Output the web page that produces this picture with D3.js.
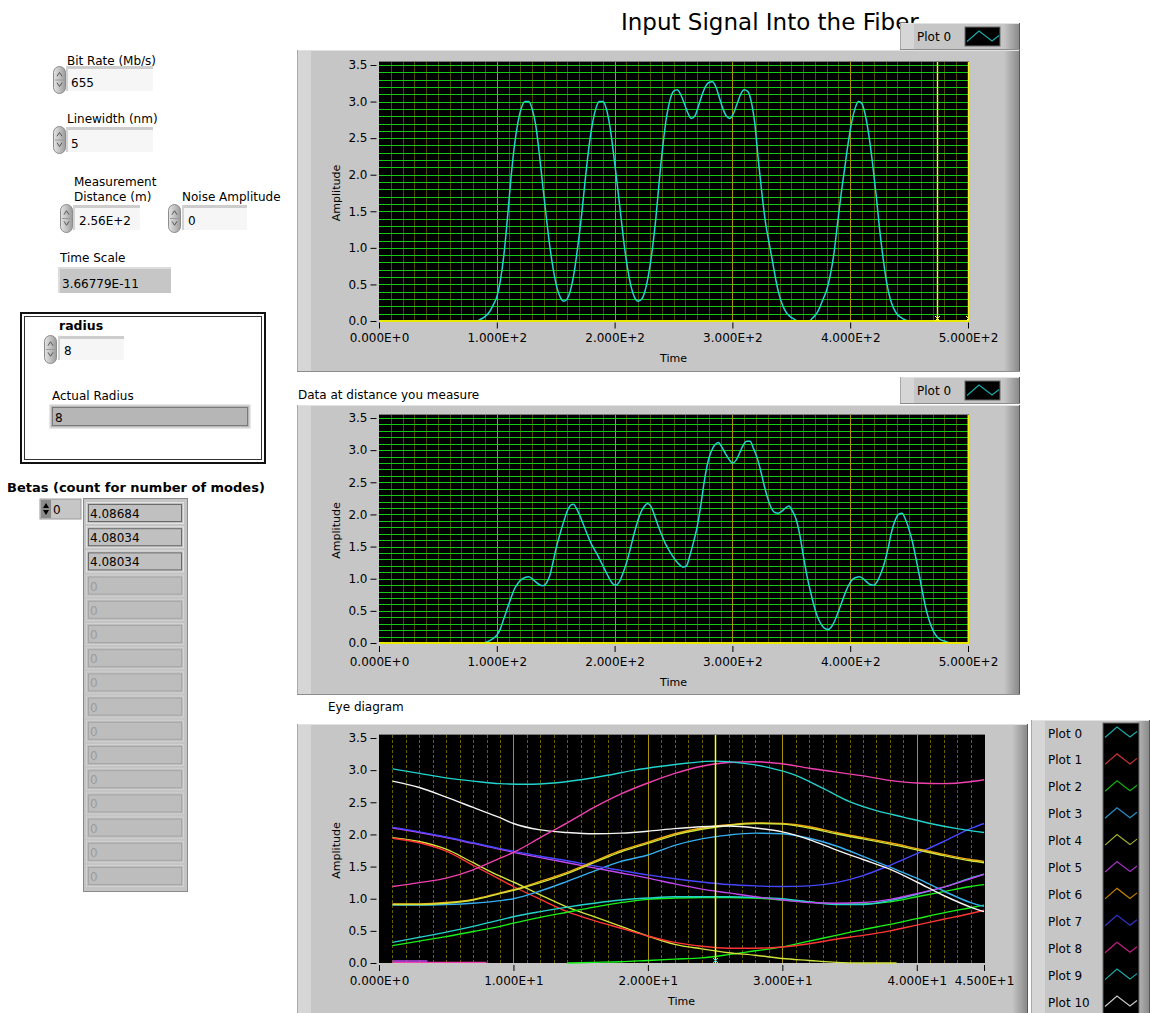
<!DOCTYPE html>
<html>
<head>
<meta charset="utf-8">
<script src="https://cdn.jsdelivr.net/npm/d3@7"></script>
<style>
  body { margin: 0; background: #fff; }
  svg { display: block; font-family: "DejaVu Sans", sans-serif; }
</style>
</head>
<body>
<svg id="panel" width="1150" height="1013"></svg>
<script>
// ---------------- data ----------------
const ampTicks = [0, 0.5, 1, 1.5, 2, 2.5, 3, 3.5];
const signalTimeTicks = [0, 100, 200, 300, 400, 500];
const eyeTimeTicks = [0, 10, 20, 30, 40, 45];

// input pulse train (time, amplitude)
const inputSignal = [[0,0],[83,0],[86,0.02],[90,0.06],[94,0.13],[97,0.22],[100,0.33],[103,0.55],[106,0.9],[109,1.4],[112,1.95],[115,2.4],[118,2.72],[121,2.92],[124,3.0],[127,3.0],[130,2.9],[133,2.68],[136,2.3],[139,1.85],[142,1.42],[145,1.02],[148,0.7],[151,0.46],[154,0.32],[157,0.27],[160,0.31],[163,0.45],[166,0.7],[169,1.05],[172,1.45],[175,1.92],[178,2.35],[181,2.68],[184,2.9],[187,3.0],[190,3.0],[193,2.9],[196,2.66],[199,2.3],[202,1.9],[205,1.48],[208,1.06],[211,0.72],[214,0.47],[217,0.32],[220,0.27],[223,0.3],[226,0.42],[229,0.65],[232,0.98],[235,1.4],[238,1.93],[241,2.4],[244,2.78],[247,3.02],[250,3.14],[253,3.16],[256,3.1],[259,2.98],[262,2.85],[265,2.77],[268,2.8],[271,2.93],[274,3.08],[277,3.2],[280,3.26],[283,3.27],[286,3.2],[289,3.05],[292,2.9],[295,2.8],[298,2.77],[301,2.84],[304,2.97],[307,3.1],[310,3.16],[313,3.14],[316,3.0],[319,2.7],[322,2.2],[325,1.75],[328,1.36],[331,1.08],[334,0.82],[337,0.55],[340,0.34],[343,0.2],[346,0.11],[349,0.06],[352,0.03],[355,0],[365,0],[368,0.04],[371,0.09],[374,0.18],[377,0.3],[380,0.42],[383,0.62],[386,0.9],[389,1.3],[392,1.7],[395,2.05],[398,2.4],[401,2.7],[404,2.9],[407,3.0],[410,2.97],[413,2.8],[416,2.52],[419,2.15],[422,1.72],[425,1.25],[428,0.85],[431,0.52],[434,0.3],[437,0.17],[440,0.09],[443,0.05],[446,0.02],[449,0]];

// pulse train after propagation (time, amplitude)
const measuredSignal = [[0,0],[88,0],[92,0.02],[96,0.06],[100,0.12],[103,0.22],[106,0.38],[109,0.54],[112,0.7],[115,0.84],[118,0.93],[121,0.99],[124,1.02],[127,1.03],[130,1.0],[133,0.95],[136,0.91],[139,0.89],[142,0.93],[145,1.05],[148,1.28],[151,1.52],[154,1.72],[157,1.9],[160,2.06],[163,2.15],[165,2.16],[168,2.08],[171,1.96],[174,1.82],[177,1.68],[180,1.55],[183,1.45],[186,1.35],[189,1.24],[192,1.13],[195,1.02],[198,0.93],[201,0.9],[204,0.95],[207,1.08],[210,1.24],[213,1.44],[216,1.66],[219,1.86],[222,2.02],[225,2.12],[228,2.17],[231,2.12],[234,1.98],[237,1.82],[240,1.68],[243,1.55],[246,1.45],[249,1.36],[252,1.28],[255,1.22],[258,1.18],[261,1.2],[264,1.37],[267,1.57],[270,1.8],[273,2.12],[276,2.5],[279,2.8],[282,2.98],[285,3.08],[288,3.12],[291,3.05],[294,2.95],[297,2.86],[300,2.8],[303,2.84],[306,2.95],[309,3.07],[312,3.14],[315,3.14],[318,3.02],[321,2.88],[324,2.68],[327,2.45],[330,2.25],[333,2.1],[336,2.03],[339,2.02],[342,2.05],[345,2.1],[348,2.13],[351,2.05],[354,1.93],[357,1.7],[360,1.38],[363,1.07],[366,0.82],[369,0.6],[372,0.42],[375,0.3],[378,0.23],[381,0.21],[384,0.25],[387,0.35],[390,0.49],[393,0.64],[396,0.79],[399,0.91],[402,0.99],[405,1.02],[408,1.03],[411,1.0],[414,0.95],[417,0.91],[420,0.9],[423,0.96],[426,1.08],[429,1.24],[432,1.46],[435,1.72],[438,1.9],[441,2.0],[444,2.02],[447,1.92],[450,1.76],[453,1.56],[456,1.3],[459,1.02],[462,0.73],[465,0.48],[468,0.3],[471,0.17],[474,0.09],[477,0.05],[480,0.03],[483,0.01],[485,0]];

// eye diagram segments (time within one window, amplitude)
const eyePlot0 = [[1,3.02],[3,2.95],[5,2.88],[7,2.83],[9,2.79],[11,2.78],[13,2.8],[15,2.85],[17,2.92],[19,3.0],[21,3.06],[23,3.11],[25,3.14],[27,3.11],[29,3.04],[31,2.92],[33,2.72],[35,2.51],[37,2.37],[39,2.27],[41,2.17],[43,2.09],[45,2.03]];
const eyePlot1 = [[1,1.94],[3,1.87],[5,1.74],[7,1.52],[9,1.3],[10,1.19],[12,0.99],[14,0.8],[16,0.66],[18,0.54],[20,0.42],[22,0.32],[24,0.26],[26,0.23],[28,0.23],[30,0.25],[32,0.3],[34,0.37],[36,0.43],[38,0.5],[40,0.59],[42,0.68],[44,0.77],[45,0.82]];
const eyePlot2 = [[1,0.27],[3,0.34],[5,0.41],[7,0.49],[9,0.57],[10,0.62],[12,0.71],[14,0.79],[16,0.87],[18,0.94],[20,0.99],[22,1.01],[24,1.02],[26,1.02],[28,1.01],[30,0.98],[32,0.95],[34,0.92],[36,0.92],[38,0.95],[40,1.03],[42,1.11],[44,1.19],[45,1.22]];
const eyePlot2b = [[14,0],[16,0.01],[18,0.02],[20,0.04],[22,0.06],[24,0.08],[26,0.13],[28,0.19],[30,0.25],[32,0.34],[34,0.43],[36,0.52],[38,0.6],[40,0.69],[42,0.78],[44,0.86],[45,0.9]];
const eyePlot3 = [[1,0.9],[3,0.9],[5,0.91],[7,0.93],[9,0.97],[10,1.0],[12,1.12],[14,1.27],[16,1.43],[18,1.58],[20,1.68],[22,1.83],[24,1.93],[26,1.99],[28,2.02],[30,2.01],[32,1.94],[34,1.82],[36,1.66],[38,1.49],[40,1.32],[42,1.12],[44,0.94],[45,0.88]];
const eyePlot4 = [[1,1.95],[3,1.89],[5,1.77],[7,1.56],[9,1.35],[10,1.26],[12,1.06],[14,0.87],[16,0.72],[18,0.57],[20,0.42],[22,0.29],[24,0.22],[26,0.16],[28,0.12],[30,0.07],[32,0.04],[34,0.01],[36,0],[38.5,0]];
const eyePlot4b = [[1,0.91],[3,0.91],[5,0.93],[7,0.98],[9,1.08],[10,1.13],[12,1.25],[14,1.39],[16,1.56],[18,1.73],[20,1.86],[22,1.99],[24,2.08],[26,2.14],[28,2.17],[30,2.16],[32,2.1],[34,2.01],[36,1.93],[38,1.85],[40,1.76],[42,1.67],[44,1.59],[45,1.56]];
const eyePlot5 = [[1,2.1],[3,2.03],[5,1.95],[7,1.86],[9,1.77],[10,1.72],[12,1.64],[14,1.56],[16,1.48],[18,1.4],[20,1.32],[22,1.23],[24,1.15],[26,1.09],[28,1.03],[30,0.98],[32,0.94],[34,0.93],[36,0.94],[38,0.99],[40,1.08],[42,1.18],[44,1.31],[45,1.38]];
const eyePlot5b = [[1,0.03],[3.6,0.03]];
const eyePlot6 = [[1,0.92],[3,0.92],[5,0.94],[7,0.99],[9,1.09],[10,1.14],[12,1.27],[14,1.41],[16,1.58],[18,1.75],[20,1.88],[22,2.01],[24,2.1],[26,2.15],[28,2.18],[30,2.17],[32,2.12],[34,2.03],[36,1.95],[38,1.87],[40,1.78],[42,1.69],[44,1.61],[45,1.58]];
const eyePlot7 = [[1,2.11],[3,2.04],[5,1.96],[7,1.87],[9,1.78],[10,1.74],[12,1.66],[14,1.59],[16,1.51],[18,1.44],[20,1.37],[22,1.31],[24,1.26],[26,1.22],[28,1.2],[30,1.19],[32,1.2],[34,1.25],[36,1.36],[38,1.52],[40,1.7],[42,1.89],[44,2.09],[45,2.17]];
const eyePlot8 = [[1,1.19],[3,1.25],[5,1.32],[7,1.45],[9,1.63],[10,1.72],[12,1.95],[14,2.18],[16,2.42],[18,2.63],[20,2.8],[22,2.95],[24,3.06],[26,3.12],[28,3.13],[30,3.1],[32,3.03],[34,2.97],[36,2.91],[38,2.84],[40,2.8],[42,2.79],[44,2.82],[45,2.85]];
const eyePlot8b = [[1,0.01],[8,0.01]];
const eyePlot9 = [[1,0.32],[3,0.4],[5,0.48],[7,0.57],[9,0.67],[10,0.72],[12,0.8],[14,0.87],[16,0.93],[18,0.98],[20,1.01],[22,1.03],[24,1.03],[26,1.03],[28,1.02],[30,1.0],[32,0.95],[34,0.91],[36,0.91],[38,0.97],[40,1.07],[42,1.18],[44,1.32],[45,1.38]];
const eyePlot10 = [[1,2.83],[3,2.73],[5,2.58],[7,2.42],[9,2.26],[10,2.17],[12,2.07],[14,2.03],[16,2.01],[18,2.02],[20,2.05],[22,2.09],[24,2.12],[26,2.13],[28,2.1],[30,2.04],[32,1.92],[34,1.76],[36,1.61],[38,1.46],[40,1.26],[42,1.05],[44,0.87],[45,0.8]];

const eyeSegments = [
  { plot: 8, pts: eyePlot8b }, { plot: 5, pts: eyePlot5b }, { plot: 2, pts: eyePlot2b },
  { plot: 4, pts: eyePlot4 }, { plot: 1, pts: eyePlot1 }, { plot: 2, pts: eyePlot2 },
  { plot: 9, pts: eyePlot9 }, { plot: 3, pts: eyePlot3 }, { plot: 5, pts: eyePlot5 },
  { plot: 7, pts: eyePlot7 }, { plot: 6, pts: eyePlot6 }, { plot: 4, pts: eyePlot4b },
  { plot: 10, pts: eyePlot10 }, { plot: 8, pts: eyePlot8 }, { plot: 0, pts: eyePlot0 }
];

const plotNames = ["Plot 0","Plot 1","Plot 2","Plot 3","Plot 4","Plot 5","Plot 6","Plot 7","Plot 8","Plot 9","Plot 10"];
const plotColors = ["#22d2cc","#ff3434","#18f018","#34aef0","#d2e23c","#c046f0","#f0aa10","#4646ff","#f040b0","#22d2cc","#f4f4f4"];
const legendColors = ["#1aaaa8","#c83232","#10b010","#2a90c8","#a0b030","#a030c0","#c08000","#3232c8","#c02080","#1aaaa8","#c8c8c8"];

// cursor positions on the time axes
const inputCursors = [473.7, 500];
const eyeCursors = [25];

const betaValues = ["4.08684","4.08034","4.08034","0","0","0","0","0","0","0","0","0","0","0","0","0"];
const betaActive = 3;

// ---------------- helpers ----------------
const svg = d3.select("#panel");
const defs = svg.append("defs");

const rshade = defs.append("linearGradient").attr("id", "rshade").attr("x1", 0).attr("x2", 1).attr("y1", 0).attr("y2", 0);
rshade.append("stop").attr("offset", 0).attr("stop-color", "#c6c6c6");
rshade.append("stop").attr("offset", 1).attr("stop-color", "#8a8a8a");

const spinGrad = defs.append("linearGradient").attr("id", "spinGrad").attr("x1", 0).attr("x2", 1).attr("y1", 0).attr("y2", 0);
spinGrad.append("stop").attr("offset", 0).attr("stop-color", "#e4e4e4");
spinGrad.append("stop").attr("offset", 0.5).attr("stop-color", "#c2c2c2");
spinGrad.append("stop").attr("offset", 1).attr("stop-color", "#9a9a9a");

function text(g, x, y, str, opts = {}) {
  return g.append("text").attr("x", x).attr("y", y).text(str)
    .attr("font-size", opts.size || 12)
    .attr("font-weight", opts.weight || "normal")
    .attr("fill", opts.fill || "#000")
    .attr("text-anchor", opts.anchor || "start");
}

// raised grey frame used by graphs and legends
function frame(g, x, y, w, h) {
  g.append("rect").attr("x", x).attr("y", y).attr("width", w).attr("height", h).attr("fill", "#c6c6c6");
  g.append("rect").attr("x", x + 1).attr("y", y + 1).attr("width", 13).attr("height", h - 2).attr("fill", "#d6d6d6");
  g.append("rect").attr("x", x + w - 16).attr("y", y + 1).attr("width", 15).attr("height", h - 2).attr("fill", "url(#rshade)");
  g.append("line").attr("x1", x).attr("x2", x + w).attr("y1", y + 0.5).attr("y2", y + 0.5).attr("stroke", "#e2e2e2");
  g.append("line").attr("x1", x + 0.5).attr("x2", x + 0.5).attr("y1", y).attr("y2", y + h).attr("stroke", "#a8a8a8");
  g.append("line").attr("x1", x + w - 0.5).attr("x2", x + w - 0.5).attr("y1", y).attr("y2", y + h).attr("stroke", "#5a5a5a");
  g.append("line").attr("x1", x).attr("x2", x + w).attr("y1", y + h - 0.5).attr("y2", y + h - 0.5).attr("stroke", "#8c8c8c");
}

function spinner(g, x, y, w, h) {
  g.append("rect").attr("x", x + 0.5).attr("y", y + 0.5).attr("width", w).attr("height", h)
    .attr("rx", w / 2).attr("ry", w / 2).attr("fill", "url(#spinGrad)").attr("stroke", "#8c8c8c");
  const cx = x + w / 2 + 0.5;
  g.append("path").attr("d", `M${cx - 2.5},${y + h * 0.38} L${cx},${y + h * 0.24} L${cx + 2.5},${y + h * 0.38}`)
    .attr("fill", "none").attr("stroke", "#555").attr("stroke-width", 1);
  g.append("path").attr("d", `M${cx - 2.5},${y + h * 0.62} L${cx},${y + h * 0.76} L${cx + 2.5},${y + h * 0.62}`)
    .attr("fill", "none").attr("stroke", "#555").attr("stroke-width", 1);
  g.append("line").attr("x1", x + 2).attr("x2", x + w - 1).attr("y1", y + h / 2 + 0.5).attr("y2", y + h / 2 + 0.5).attr("stroke", "#9a9a9a");
}

function controlBox(g, x, y, w, h) {
  g.append("rect").attr("x", x).attr("y", y).attr("width", w).attr("height", h).attr("fill", "#f6f6f6");
  g.append("rect").attr("x", x).attr("y", y).attr("width", w).attr("height", 3).attr("fill", "#cdcdcd");
  g.append("rect").attr("x", x).attr("y", y).attr("width", 2).attr("height", h).attr("fill", "#d2d2d2");
}

function indicatorBox(g, x, y, w, h, fill) {
  g.append("rect").attr("x", x).attr("y", y).attr("width", w).attr("height", h).attr("fill", fill);
  g.append("rect").attr("x", x).attr("y", y).attr("width", w).attr("height", 2).attr("fill", "#dcdcdc");
  g.append("rect").attr("x", x).attr("y", y).attr("width", 2).attr("height", h).attr("fill", "#dcdcdc");
}

function fmtE(v) {
  if (v === 0) return "0.000E+0";
  const e = Math.floor(Math.log10(Math.abs(v)));
  return (v / Math.pow(10, e)).toFixed(3) + "E+" + e;
}

function styleAxis(sel) {
  sel.select(".domain").remove();
  sel.selectAll(".tick line").attr("stroke", "#000");
  sel.selectAll(".tick text").attr("fill", "#000").attr("font-size", 12).attr("font-family", "DejaVu Sans, sans-serif");
}

// waveform graph: plot area, grid, axes
function graph(cfg) {
  const g = svg.append("g");
  const x = d3.scaleLinear().domain(cfg.xDomain).range([cfg.left, cfg.right]);
  const y = d3.scaleLinear().domain([0, 3.5]).range([cfg.bottom, cfg.top]);
  const px = v => Math.round(x(v)) + 0.5;
  const py = v => Math.round(y(v)) + 0.5;

  g.append("rect").attr("x", cfg.left).attr("y", cfg.top - 3)
    .attr("width", cfg.right - cfg.left + 1).attr("height", cfg.bottom - cfg.top + 3).attr("fill", "#000");
  g.append("line").attr("x1", cfg.left).attr("x2", cfg.right + 1).attr("y1", cfg.top - 3.5).attr("y2", cfg.top - 3.5).attr("stroke", "#7a7a7a");

  const clipId = "clip" + cfg.id;
  defs.append("clipPath").attr("id", clipId).append("rect")
    .attr("x", cfg.left).attr("y", cfg.top - 3).attr("width", cfg.right - cfg.left + 1).attr("height", cfg.bottom - cfg.top + 4);

  const grid = g.append("g");
  const [d0, d1] = cfg.xDomain;
  const minors = d3.range(d0 + cfg.minorStep, d1, cfg.minorStep).filter(v => Math.abs(v % cfg.majorStep) > 1e-6 && Math.abs(v % cfg.majorStep - cfg.majorStep) > 1e-6);
  const majors = d3.range(d0 + cfg.majorStep, d1, cfg.majorStep);
  grid.selectAll(".vminor").data(minors).join("line")
    .attr("x1", px).attr("x2", px).attr("y1", cfg.top - 3).attr("y2", cfg.bottom)
    .attr("stroke", cfg.minorColor).attr("stroke-dasharray", cfg.minorDash || null);
  if (cfg.hGrid) {
    grid.selectAll(".h").data(d3.range(1, 36).map(i => i / 10)).join("line")
      .attr("x1", cfg.left).attr("x2", cfg.right).attr("y1", py).attr("y2", py)
      .attr("stroke", "#14c814");
  }
  grid.selectAll(".vmajor").data(majors).join("line")
    .attr("x1", px).attr("x2", px).attr("y1", cfg.top - 3).attr("y2", cfg.bottom)
    .attr("stroke", "#a89400");

  // y axis
  const ya = d3.axisLeft(y).tickValues(ampTicks).tickFormat(d3.format(".1f")).tickSize(6).tickPadding(3);
  g.append("g").attr("transform", `translate(${cfg.left - 2.5},0)`).call(ya).call(styleAxis);
  // x axis
  const xa = d3.axisBottom(x).tickValues(cfg.ticks).tickFormat(fmtE).tickSize(6).tickPadding(5);
  g.append("g").attr("transform", `translate(0,${cfg.bottom + cfg.tickGap})`).call(xa).call(styleAxis);

  text(g, 0, 0, "Amplitude", { size: 11, anchor: "middle" })
    .attr("transform", `translate(${cfg.left - 39},${(cfg.top + cfg.bottom) / 2}) rotate(-90)`);
  text(g, (cfg.left + cfg.right) / 2, cfg.timeY, "Time", { size: 11, anchor: "middle" });

  const plot = g.append("g").attr("clip-path", `url(#${clipId})`);
  return { g, plot, x, y, px, py, cfg };
}

const line = (x, y) => d3.line().x(d => x(d[0])).y(d => y(d[1])).curve(d3.curveMonotoneX);

// vertical cursor with a small cross marker where it meets the time axis
function cursors(gr, values, color, width, markColor) {
  values.forEach(v => {
    const cx = gr.px(v), b = gr.cfg.bottom;
    gr.plot.append("line").attr("x1", cx).attr("x2", cx).attr("y1", gr.cfg.top - 3).attr("y2", b)
      .attr("stroke", color).attr("stroke-width", width);
    gr.plot.append("path").attr("d", `M${cx - 2.5},${b - 5} L${cx + 2.5},${b} M${cx + 2.5},${b - 5} L${cx - 2.5},${b}`)
      .attr("stroke", markColor).attr("stroke-width", 1).attr("fill", "none");
  });
}

function legendZigzag(g, x0, cy, color, sx) {
  const pts = [[0, 4.5], [12, -6], [25, 4], [32, -1.5]].map(p => [x0 + p[0] * sx, cy + p[1]]);
  g.append("path").attr("d", d3.line()(pts)).attr("fill", "none").attr("stroke", color).attr("stroke-width", 1.2);
}

function singleLegend(x, y, color) {
  const g = svg.append("g");
  frame(g, x, y, 120, 27);
  text(g, 917, y + 18, plotNames[0]);
  g.append("rect").attr("x", 965).attr("y", y + 4).attr("width", 35).attr("height", 19).attr("fill", "#000")
    .attr("stroke", "#6a6a6a");
  legendZigzag(g, 967, y + 14, color, 1);
}

// ---------------- title ----------------
text(svg, 621, 30, "Input Signal Into the Fiber", { size: 23 });

// ---------------- input signal graph ----------------
frame(svg.append("g"), 297, 50, 723, 322);
singleLegend(900, 23, legendColors[0]);
const inGraph = graph({ id: "in", left: 379, right: 968, top: 65, bottom: 321, xDomain: [0, 500],
  ticks: signalTimeTicks, minorStep: 10, majorStep: 100, minorColor: "#504a00", hGrid: true, tickGap: 1.5, timeY: 362 });
inGraph.plot.append("path").datum(inputSignal).attr("d", line(inGraph.x, inGraph.y)).attr("fill", "none")
  .attr("stroke", plotColors[0]).attr("stroke-width", 1.5);
inGraph.plot.append("line").attr("x1", 379).attr("x2", 969).attr("y1", 321).attr("y2", 321).attr("stroke", "#e8e800").attr("stroke-width", 2);
cursors(inGraph, inputCursors, "#f4f420", 1.4, "#ffff60");

// ---------------- measured signal graph ----------------
text(svg, 298, 399, "Data at distance you measure");
frame(svg.append("g"), 297, 405, 723, 290);
singleLegend(900, 377, legendColors[0]);
const outGraph = graph({ id: "out", left: 379, right: 968, top: 418, bottom: 643, xDomain: [0, 500],
  ticks: signalTimeTicks, minorStep: 10, majorStep: 100, minorColor: "#504a00", hGrid: true, tickGap: 3, timeY: 686 });
outGraph.plot.append("path").datum(measuredSignal).attr("d", line(outGraph.x, outGraph.y)).attr("fill", "none")
  .attr("stroke", plotColors[0]).attr("stroke-width", 1.5);
outGraph.plot.append("line").attr("x1", 379).attr("x2", 969).attr("y1", 643).attr("y2", 643).attr("stroke", "#e8e800").attr("stroke-width", 2);
outGraph.plot.append("line").attr("x1", outGraph.px(500)).attr("x2", outGraph.px(500)).attr("y1", 415).attr("y2", 643).attr("stroke", "#f0f000").attr("stroke-width", 2);

// ---------------- eye diagram ----------------
text(svg, 328, 711, "Eye diagram");
frame(svg.append("g"), 297, 724, 731, 300);
const eyeGraph = graph({ id: "eye", left: 379, right: 984, top: 738, bottom: 963, xDomain: [0, 45],
  ticks: eyeTimeTicks, minorStep: 1, majorStep: 10, minorColor: "#6a6000", minorDash: "3,2", hGrid: false, tickGap: 2, timeY: 1005 });
eyeGraph.plot.selectAll(".seg").data(eyeSegments).join("path")
  .attr("d", d => line(eyeGraph.x, eyeGraph.y)(d.pts)).attr("fill", "none")
  .attr("stroke", d => plotColors[d.plot]).attr("stroke-width", 1.4);
cursors(eyeGraph, eyeCursors, "#ffff20", 1.5, "#40e0e0");

// eye legend
const eyeLeg = svg.append("g");
frame(eyeLeg, 1031, 720, 119, 300);
eyeLeg.append("rect").attr("x", 1103).attr("y", 723).attr("width", 36).attr("height", 300).attr("fill", "#000").attr("stroke", "#6a6a6a");
plotNames.forEach((name, i) => {
  const cy = 733 + i * 26.9;
  text(eyeLeg, 1048, cy + 4.5, name);
  legendZigzag(eyeLeg, 1105, cy, legendColors[i], 1);
});

// ---------------- front panel controls ----------------
const ctl = svg.append("g");
text(ctl, 67, 65, "Bit Rate (Mb/s)");
spinner(ctl, 53, 66, 12, 27); controlBox(ctl, 66, 66, 87, 25); text(ctl, 71, 86.5, "655");

text(ctl, 67, 123, "Linewidth (nm)");
spinner(ctl, 53, 126, 12, 27); controlBox(ctl, 66, 127, 87, 25); text(ctl, 71, 147.5, "5");

text(ctl, 74, 186, "Measurement");
text(ctl, 74, 201, "Distance (m)");
spinner(ctl, 60, 204, 12, 28); controlBox(ctl, 73, 205, 67, 25); text(ctl, 79, 225, "2.56E+2");

text(ctl, 182, 201, "Noise Amplitude");
spinner(ctl, 168, 204, 12, 28); controlBox(ctl, 182, 205, 65, 25); text(ctl, 188, 225, "0");

text(ctl, 60, 262, "Time Scale");
indicatorBox(ctl, 58, 267, 113, 26, "#c6c6c6"); text(ctl, 62, 287.5, "3.66779E-11");

// radius cluster
ctl.append("rect").attr("x", 21).attr("y", 313).attr("width", 244).attr("height", 150).attr("fill", "#fff")
  .attr("stroke", "#111").attr("stroke-width", 2);
ctl.append("rect").attr("x", 24.5).attr("y", 316.5).attr("width", 237).attr("height", 143).attr("fill", "none")
  .attr("stroke", "#333").attr("stroke-width", 1);
text(ctl, 59, 330, "radius", { weight: "bold", size: 12.5 });
spinner(ctl, 44, 335, 12, 28); controlBox(ctl, 58, 336, 66, 24); text(ctl, 64, 355, "8");
text(ctl, 52, 400, "Actual Radius");
ctl.append("rect").attr("x", 50).attr("y", 405).attr("width", 200).attr("height", 23).attr("fill", "#b6b6b6").attr("stroke", "#dedede").attr("stroke-width", 1.5);
ctl.append("rect").attr("x", 52.5).attr("y", 407.5).attr("width", 195).attr("height", 18).attr("fill", "none").attr("stroke", "#7a7a7a");
text(ctl, 55, 421.5, "8");

// betas array
text(ctl, 7, 492, "Betas (count for number of modes)", { weight: "bold", size: 13 });
ctl.append("rect").attr("x", 40).attr("y", 499).attr("width", 41).attr("height", 20).attr("fill", "#c6c6c6").attr("stroke", "#9a9a9a");
ctl.append("rect").attr("x", 41).attr("y", 500).attr("width", 10).attr("height", 18).attr("fill", "#8a8a8a");
ctl.append("path").attr("d", "M43,508 L46,503 L49,508 Z").attr("fill", "#000");
ctl.append("path").attr("d", "M43,510 L46,515 L49,510 Z").attr("fill", "#000");
text(ctl, 53, 513.5, "0");

ctl.append("rect").attr("x", 83.5).attr("y", 498.5).attr("width", 104).attr("height", 393).attr("fill", "#c4c4c4").attr("stroke", "#8a8a8a");
betaValues.forEach((v, i) => {
  const y0 = 502 + i * 24.2;
  const active = i < betaActive;
  ctl.append("rect").attr("x", 86.5).attr("y", y0 + 0.5).attr("width", 97).attr("height", 21)
    .attr("fill", active ? "#c0c0c0" : "#bdbdbd").attr("stroke", active ? "#e2e2e2" : "#d2d2d2");
  ctl.append("rect").attr("x", 88.5).attr("y", y0 + 2.5).attr("width", 93).attr("height", 17)
    .attr("fill", "none").attr("stroke", active ? "#6a6a6a" : "#a6a6a6");
  text(ctl, 90, y0 + 16, v, { fill: active ? "#000" : "#9c9c9c" });
});
</script>
</body>
</html>
